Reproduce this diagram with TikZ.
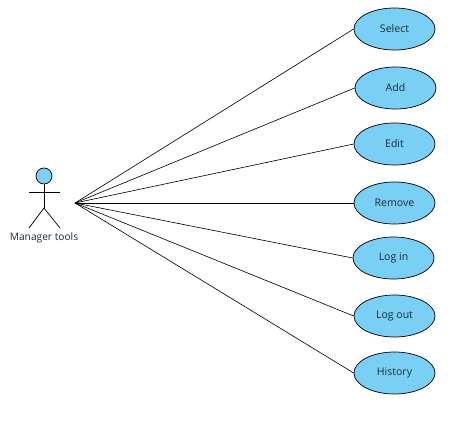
\documentclass[tikz,border=0pt]{standalone}
\usepackage{fontspec}
\setmainfont{Open Sans}
\usetikzlibrary{shapes.geometric}
\usepackage{xcolor}
\definecolor{usecasecolor}{RGB}{122,207,245}
\definecolor{labelcolor}{RGB}{25,45,60}

\begin{document}
\begin{tikzpicture}
  \tikzset{
    usecase/.style={
      draw,
      ellipse,
      minimum width=1.62cm,
      minimum height=0.84cm,
      inner sep=0pt,
      anchor=center,
      fill=usecasecolor,
      text=labelcolor,
      font=\fontsize{6pt}{7pt}\selectfont
    },
    actorhead/.style={
      draw,
      circle,
      minimum size=0.32cm,
      inner sep=0pt,
      fill=usecasecolor
    },
    actorlabel/.style={
      font=\fontsize{5.8pt}{7pt}\selectfont,
      text=labelcolor,
      inner sep=0pt
    },
    link/.style={
      line width=0.35pt
    }
  }

  \useasboundingbox[fill=white] (0, 0) rectangle (9.52, 8.42);

  % Draw the actor
  \node[actorhead] at (0.88, 4.9) (head) {};
  \coordinate (hip) at (0.88, 4.26);
  \coordinate (armleft) at (0.58, 4.58);
  \coordinate (armright) at (1.2, 4.58);
  \coordinate (footleft) at (0.58, 3.86);
  \coordinate (footright) at (1.2, 3.86);
  \draw (head.south) -- (hip);
  \draw (armleft) -- (armright);
  \draw (footleft) -- (hip) -- (footright);
  \node[actorlabel] at (0.88, 3.67) (manager) {Manager tools};

  % Draw the use cases
  \node[usecase] at (7.89, 7.84) (select) {Select};
  \node[usecase] at (7.91, 6.66) (add) {Add};
  \node[usecase] at (7.89, 5.54) (edit) {Edit};
  \node[usecase] at (7.89, 4.36) (remove) {Remove};
  \node[usecase] at (7.87, 3.26) (login) {Log in};
  \node[usecase] at (7.89, 2.1) (logout) {Log out};
  \node[usecase] at (7.89, 0.96) (history) {History};

  % Connect the actor to the use cases
  \coordinate (hub) at (1.5, 4.36);
  \draw[link] (hub) -- (select.west);
  \draw[link] (hub) -- (add.west);
  \draw[link] (hub) -- (edit.west);
  \draw[link] (hub) -- (remove.west);
  \draw[link] (hub) -- (login.west);
  \draw[link] (hub) -- (logout.west);
  \draw[link] (hub) -- (history.west);

\end{tikzpicture}
\end{document}
